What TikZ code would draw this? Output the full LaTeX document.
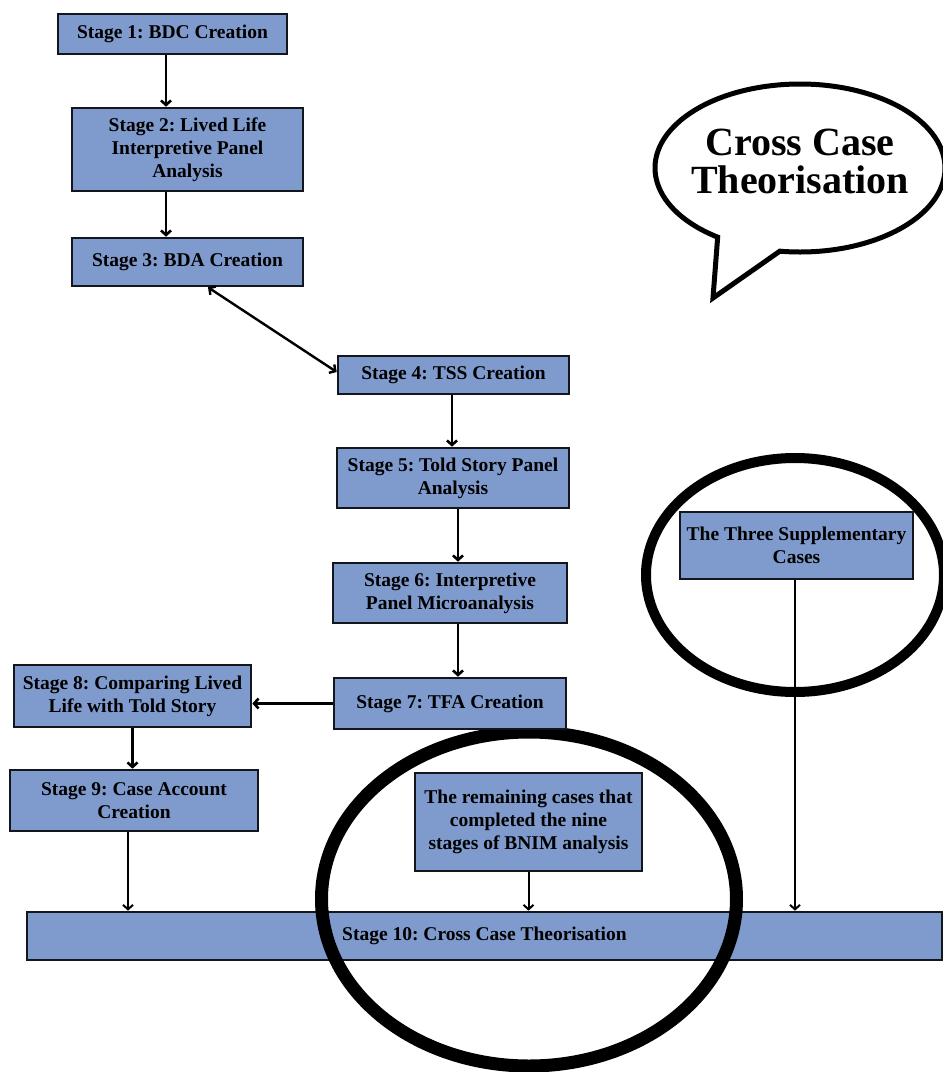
\documentclass[tikz,border=0pt]{standalone}
\usepackage{fontspec}
\setmainfont{Liberation Serif}
\frenchspacing
\usetikzlibrary{arrows.meta,calc}
\definecolor{boxblue}{RGB}{127,155,205}
\definecolor{boxline}{RGB}{20,22,30}
\tikzset{
  stagebox/.style={draw=boxline, line width=2.6pt, fill=boxblue, inner sep=0pt, align=center,
    font=\fontsize{19.5}{23}\selectfont\bfseries, text=black},
  arr/.style={draw=black, line width=2.6pt, -{Straight Barb[length=4.5pt,width=10pt]}},
  thinarr/.style={draw=black, line width=2pt, -{Straight Barb[length=4.5pt,width=10pt]}},
  dblarr/.style={draw=black, line width=2.4pt, {Straight Barb[length=4.5pt,width=10pt]}-{Straight Barb[length=4.5pt,width=10pt]}},
  ring/.style={draw=black},
}
\begin{document}
\begin{tikzpicture}[x=1pt,y=-1pt]
\useasboundingbox (0,0) rectangle (943,1072);
\fill[white] (0,0) rectangle (943,1072);

% Stage 10 (under the big ellipse)
\node[stagebox, minimum width=915pt, minimum height=48pt] (s10) at (484.5,936) {Stage 10: Cross Case Theorisation};

% Big ellipse and right ellipse
\coordinate (bigc) at (529,899);
\draw[ring, line width=13pt] (bigc) ellipse [x radius=207.5pt, y radius=167pt];
\coordinate (rightc) at (795,575);
\draw[ring, line width=10pt] (rightc) ellipse [x radius=149pt, y radius=117pt];

% Stage boxes
\node[stagebox, minimum width=229pt, minimum height=40pt] (s1) at (172.5,34) {Stage 1: BDC Creation};
\node[stagebox, minimum width=231pt, minimum height=83pt] (s2) at (187.5,149.5) {Stage 2: Lived Life\\Interpretive Panel\\Analysis};
\node[stagebox, minimum width=231pt, minimum height=48pt] (s3) at (187.5,262) {Stage 3: BDA Creation};
\node[stagebox, minimum width=231pt, minimum height=38pt] (s4) at (453.5,375) {Stage 4: TSS Creation};
\node[stagebox, minimum width=232pt, minimum height=60pt] (s5) at (453,478) {Stage 5: Told Story Panel\\Analysis};
\node[stagebox, minimum width=234pt, minimum height=60pt] (s6) at (450,593) {Stage 6: Interpretive\\Panel Microanalysis};
\node[stagebox, minimum width=232pt, minimum height=51pt] (s7) at (450,703.5) {Stage 7: TFA Creation};
\node[stagebox, minimum width=237pt, minimum height=62pt] (s8) at (132.5,696) {Stage 8: Comparing Lived\\Life with Told Story};
\node[stagebox, minimum width=248pt, minimum height=61pt] (s9) at (134,800.5) {Stage 9: Case Account\\Creation};
\node[stagebox, minimum width=233pt, minimum height=67pt] (sup) at (796.5,545.5) {The Three Supplementary\\Cases};
\node[stagebox, minimum width=227pt, minimum height=98pt] (rem) at (528.5,822) {The remaining cases that\\completed the nine\\stages of BNIM analysis};

% Connectors
\draw[arr] ([xshift=-6.5pt]s1.south) -- ([xshift=-6.5pt]s1.south |- s2.north);
\draw[arr] ([xshift=-21.5pt]s2.south) -- ([xshift=-21.5pt]s2.south |- s3.north);
\draw[dblarr] ([xshift=20.5pt]s3.south) -- ([yshift=3pt]s4.west);
\draw[arr] ([xshift=-1.5pt]s4.south) -- ([xshift=-1.5pt]s4.south |- s5.north);
\draw[arr] ([xshift=5pt]s5.south) -- ([xshift=5pt]s5.south |- s6.north);
\draw[arr] ([xshift=8pt]s6.south) -- ([xshift=8pt]s6.south |- s7.north);
\draw[arr] (s7.west) -- (s7.west -| s8.east);
\draw[arr] (s8.south) -- (s8.south |- s9.north);
\draw[thinarr] ([xshift=-6pt]s9.south) -- ([xshift=-6pt]s9.south |- s10.north);
\draw[thinarr] (rem.south) -- (rem.south |- s10.north);
\draw[thinarr] ([xshift=-1.5pt]sup.south) -- ([xshift=-1.5pt]sup.south |- s10.north);

% Speech bubble
\coordinate (bc) at (800,168);
\coordinate (tip) at (713,298);
\draw[line width=5pt, line join=miter, fill=white]
  ([shift={(-98:145pt and 84pt)}]bc) -- (tip) -- ([shift={(235.4:145pt and 84pt)}]bc)
  arc[start angle=235.4, end angle=-98, x radius=145pt, y radius=84pt] -- cycle;
\node[align=center, font=\fontsize{40}{38}\selectfont\bfseries, inner sep=0pt] (bubtext) at (800,161) {Cross Case\\Theorisation};
\end{tikzpicture}
\end{document}
